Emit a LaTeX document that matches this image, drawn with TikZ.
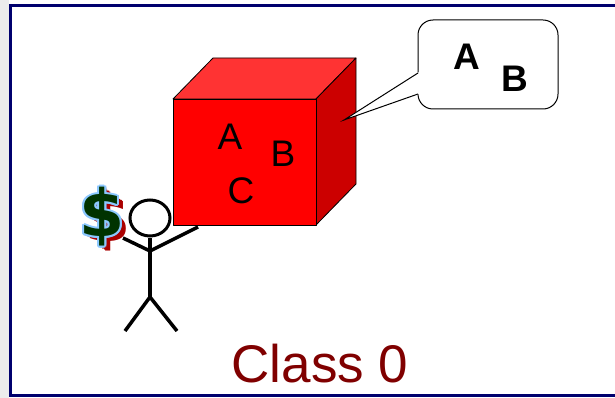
\documentclass[tikz,border=0pt]{standalone}
\usepackage{fontspec}
\setmainfont{Liberation Sans}
\newfontfamily\dollarfont{DejaVu Sans}
\usetikzlibrary{shapes.geometric}
\begin{document}
\begin{tikzpicture}[x=1pt,y=-1pt,
  frameline/.style={draw=framenavy,line width=3pt},
  facefront/.style={fill=cubefront,draw=black,line width=0.8pt,line join=round},
  facetop/.style={fill=cubetop,draw=black,line width=0.8pt,line join=round},
  faceside/.style={fill=cubeside,draw=black,line width=0.8pt,line join=round},
  cubeletter/.style={font=\fontsize{37}{37}\selectfont,inner sep=0pt},
  bubbleletter/.style={font=\fontsize{37}{37}\selectfont\bfseries,inner sep=0pt},
  bubble/.style={draw=black,fill=white,line width=1pt,rounded corners=15pt,
    minimum width=140pt,minimum height=89pt,inner sep=0pt},
  limb/.style={draw=black,line width=3.5pt},
  headshape/.style={draw=black,line width=3pt,fill=white,ellipse,
    minimum width=40pt,minimum height=36pt,inner sep=0pt},
  dollar/.style={font=\dollarfont\fontsize{65}{65}\selectfont\bfseries,inner sep=0pt},
  caption/.style={font=\fontsize{53}{53}\selectfont,text=captionred,inner sep=0pt}]
\definecolor{framenavy}{RGB}{0,0,110}
\definecolor{sidegray}{RGB}{236,236,236}
\definecolor{cubefront}{RGB}{255,0,0}
\definecolor{cubetop}{RGB}{255,51,51}
\definecolor{cubeside}{RGB}{204,0,0}
\definecolor{captionred}{RGB}{128,0,0}
\definecolor{dollargreen}{RGB}{0,51,0}
\definecolor{dollaredge}{RGB}{140,200,255}
\definecolor{dollarshadow}{RGB}{170,0,0}
\useasboundingbox (0,0) rectangle (615,398);
\fill[white] (0,0) rectangle (615,398);
\fill[sidegray] (0,0) rectangle (9,398);
% slide frame
\draw[frameline] (640,6) -- (10.5,6) -- (10.5,395.5) -- (640,395.5);

% cube
\coordinate (f1) at (173,99);
\coordinate (f2) at (316,99);
\coordinate (f3) at (316,225);
\coordinate (f4) at (173,225);
\coordinate (b1) at (213,58);
\coordinate (b2) at (356,58);
\coordinate (b3) at (356,184);
\filldraw[facetop] (f1) -- (b1) -- (b2) -- (f2) -- cycle;
\filldraw[faceside] (f2) -- (b2) -- (b3) -- (f3) -- cycle;
\filldraw[facefront] (f1) -- (f2) -- (f3) -- (f4) -- cycle;
\node[cubeletter] (la) at (230,136.5) {A};
\node[cubeletter] (lb) at (283,153.5) {B};
\node[cubeletter] (lc) at (241,190.5) {C};

% speech bubble
\node[bubble] (bub) at (488,64.5) {};
\coordinate (tip) at (344,120);
\coordinate (pa) at (418,73);
\coordinate (pb) at (418,94);
\fill[white] (419,72.5) -- (417,72.5) -- (tip) -- (417,94.5) -- (419,94.5) -- cycle;
\draw[line width=1pt,line join=miter] (pa) -- (tip) -- (pb);
\node[bubbleletter] (ba) at (467,57) {A};
\node[bubbleletter] (bb) at (515,78.5) {B};

% stick figure
\coordinate (neck) at (150,238);
\coordinate (hip) at (150,297);
\coordinate (shoulder) at (150,251);
\coordinate (lhand) at (123,238);
\coordinate (rhand) at (198,227);
\coordinate (lfoot) at (125,331);
\coordinate (rfoot) at (177,331);
\draw[limb] (neck) -- (hip);
\draw[limb] (lhand) -- (shoulder) -- (rhand);
\draw[limb] (lfoot) -- (hip) -- (rfoot);
\node[headshape] (head) at (150,218) {};

% dollar sign with shadow and light edge
\foreach \dx/\dy in {0/0,1.5/1.5,3/3,4/4}
  \node[dollar,text=dollarshadow] at (104+\dx,218+\dy) {\$};
\foreach \a in {0,30,...,330}
  \node[dollar,text=dollaredge] at ({102+2*cos(\a)},{217+2*sin(\a)}) {\$};
\node[dollar,text=dollargreen] (usd) at (102,217) {\$};

% caption
\node[caption] (cap) at (320,364) {Class 0};
\end{tikzpicture}
\end{document}
